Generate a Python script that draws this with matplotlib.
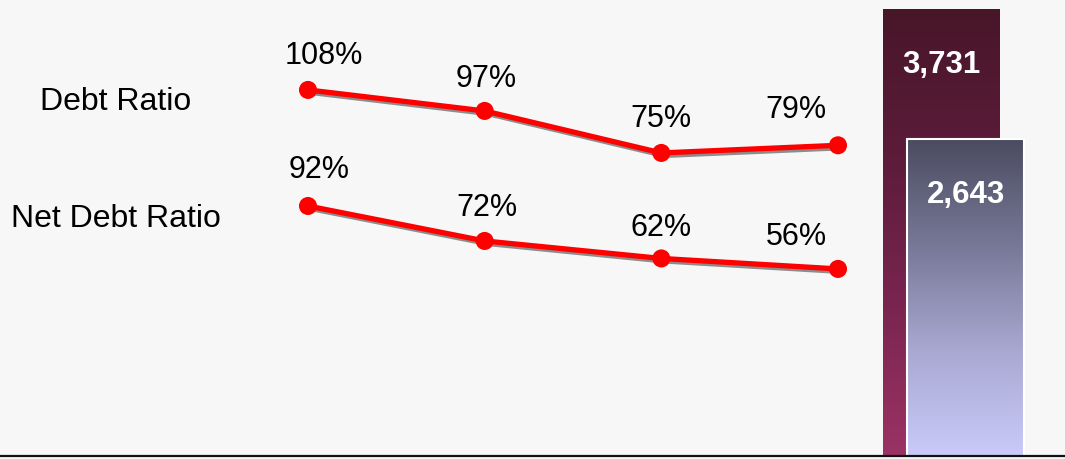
import numpy as np
import matplotlib
matplotlib.use("Agg")
import matplotlib.pyplot as plt
import matplotlib.patheffects as pe
from matplotlib.colors import LinearSegmentedColormap

plt.rcParams["font.family"] = ["Liberation Sans", "DejaVu Sans"]

# data
periods = [0, 1, 2, 3]
debt_ratio = [108, 97, 75, 79]
net_debt_ratio = [92, 72, 62, 56]
bar_values = [3731, 2643]
bar_labels = ["3,731", "2,643"]
row_labels = ["Debt Ratio", "Net Debt Ratio"]

W, H = 1065, 459
bg = "#f7f7f7"
fig = plt.figure(figsize=(W / 100, H / 100), dpi=100, facecolor=bg)

# x mapping: period 0 at 308px, period 3 at 838px
px_per_unit = (838 - 308) / 3
xlim = (-308 / px_per_unit, 3 + (W - 838) / px_per_unit)


def line_axes(ylim):
    ax = fig.add_axes([0, 0, 1, 1])
    ax.set_xlim(*xlim)
    ax.set_ylim(*ylim)
    ax.patch.set_alpha(0)
    ax.axis("off")
    return ax


ax_debt = line_axes((-85.3, 155.1))
ax_net = line_axes((-52.7, 209.8))

shadow = [pe.SimpleLineShadow(offset=(1.8, -1.8), shadow_color="#808080", alpha=0.9), pe.Normal()]

# label baseline offsets in pixels (dx, dy) relative to each point
debt_offsets = [(16, 26), (2, 24), (0, 26), (-42, 27)]
net_offsets = [(11, 28), (2, 25), (0, 22), (-42, 24)]

for ax, vals, offs in [(ax_debt, debt_ratio, debt_offsets), (ax_net, net_debt_ratio, net_offsets)]:
    ax.plot(periods, vals, color="#ff0000", lw=3.8, marker="o", markersize=13,
            markeredgewidth=0, solid_capstyle="round", path_effects=shadow, zorder=3)
    for x, v, (dx, dy) in zip(periods, vals, offs):
        ax.annotate(f"{v}%", (x, v), xytext=(dx, dy), textcoords="offset pixels",
                    ha="center", va="baseline", fontsize=22, color="black")

fig.text(116 / W, 1 - 110 / H, row_labels[0], ha="center", va="baseline", fontsize=23)
fig.text(116 / W, 1 - 227 / H, row_labels[1], ha="center", va="baseline", fontsize=23)

# bars
base = 456
ax_bar = fig.add_axes([0, (H - base) / H, 1, base / H])
ax_bar.patch.set_alpha(0)
bar_w = 117
xlim_bar = (-941.5 / bar_w, (W - 941.5) / bar_w)
ylim_bar = (0, bar_values[0] * base / 447)
for s in ["top", "left", "right"]:
    ax_bar.spines[s].set_visible(False)
ax_bar.spines["bottom"].set_linewidth(1.6)
ax_bar.spines["bottom"].set_color("#111111")
ax_bar.set_xticks([])
ax_bar.set_yticks([])

bar_x = [0, 24 / bar_w]
cmaps = [
    LinearSegmentedColormap.from_list("dark", ["#481629", "#5c1c3a", "#7a2550", "#9b3365"]),
    LinearSegmentedColormap.from_list("light", ["#4b4c61", "#777896", "#a8a8d2", "#cacafa"]),
]
edges = ["none", "white"]
grad = np.linspace(0, 1, 256).reshape(-1, 1)
for x, v, cm, ec in zip(bar_x, bar_values, cmaps, edges):
    rect = ax_bar.bar(x, v, width=1, color="none", edgecolor=ec, lw=1.5, zorder=2)[0]
    im = ax_bar.imshow(grad, cmap=cm, aspect="auto", extent=(x - 0.5, x + 0.5, 0, v),
                       origin="upper", zorder=1)
    im.set_clip_path(rect)
ax_bar.set_xlim(*xlim_bar)
ax_bar.set_ylim(*ylim_bar)

for x, v, lab in zip(bar_x, bar_values, bar_labels):
    ax_bar.annotate(lab, (x, v), xytext=(0, -64), textcoords="offset pixels",
                    ha="center", va="baseline", fontsize=22.5, fontweight="bold", color="white")

fig.savefig("out.png", dpi=100, facecolor=bg)
